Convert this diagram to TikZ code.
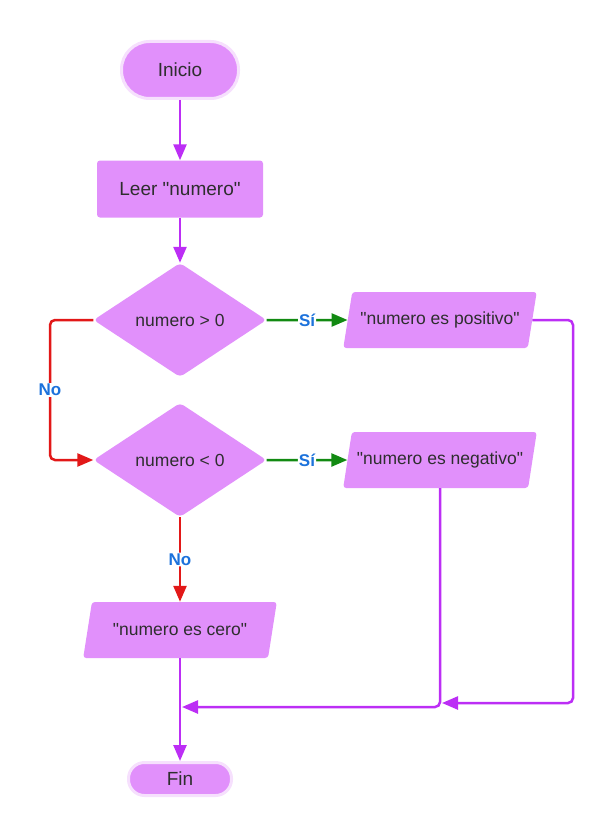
\documentclass[tikz,border=0pt]{standalone}
\usepackage{fontspec}
\setmainfont{Liberation Sans}[Ligatures=TeXOff]
\usetikzlibrary{positioning}
\usetikzlibrary{arrows.meta}
\usetikzlibrary{shapes.geometric}
\definecolor{caja}{HTML}{E190FB}
\definecolor{borde}{HTML}{F6E0FD}
\definecolor{linea}{HTML}{BC2EF5}
\definecolor{rojo}{HTML}{E21818}
\definecolor{verde}{HTML}{128A12}
\definecolor{azul}{HTML}{1C72DC}
\definecolor{texto}{HTML}{2E2E2E}

\begin{document}
\begin{tikzpicture}[x=1pt,y=1pt,
	nodes={text=texto,font=\fontsize{17.5}{20}\selectfont},
	terminal/.style={fill=caja,draw=borde,line width=3pt,font=\fontsize{19}{22}\selectfont},
	proceso/.style={fill=caja,rounded corners=3pt,minimum width=166pt,minimum height=57pt,font=\fontsize{19}{22}\selectfont},
	decision/.style={diamond,fill=caja,rounded corners=4pt,minimum width=173pt,minimum height=114pt,inner sep=1pt},
	salida/.style={trapezium,trapezium left angle=70,trapezium right angle=110,trapezium stretches=true,
		fill=caja,rounded corners=3pt,minimum width=194pt,minimum height=56pt,inner xsep=2pt},
	flecha/.style={draw=linea,line width=2.5pt,rounded corners=5pt,-{Triangle[length=16pt,width=13pt]}},
	etiqueta/.style={fill=white,text=azul,inner sep=1pt,font=\bfseries\fontsize{17}{19}\selectfont}]
	\useasboundingbox (0,0) rectangle (614,-840);
	
	\node (inicio) [terminal,rounded corners=28pt,minimum width=117pt,minimum height=57pt] at (180,-70) {Inicio};
	\node (leer) [proceso, below of = inicio, node distance=119pt] {Leer "numero"};
	\node (cond1) [decision, below of = leer, node distance=131pt] {numero > 0};
	\node (cond2) [decision, below of = cond1, node distance=140pt] {numero < 0};
	\node (pos) [salida, right of = cond1, node distance=260pt] {"numero es positivo"};
	\node (neg) [salida, right of = cond2, node distance=260pt] {"numero es negativo"};
	\node (cero) [salida, below of = cond2, node distance=170pt] {"numero es cero"};
	\node (fin) [terminal,rounded corners=16pt,minimum width=103pt,minimum height=33pt, below of = cero, node distance=149pt] {Fin};
	
	\coordinate (izq) at (50,-320);
	\coordinate (der) at (573,-703);
	\coordinate (union1) at (182,-707);
	\coordinate (union2) at (442,-703);
	
	\draw[flecha] (inicio) -- (leer);
	\draw[flecha] (leer) -- (cond1);
	\draw[flecha,draw=verde] (cond1) -- node[etiqueta]{Sí} (pos);
	\draw[flecha,draw=verde] (cond2) -- node[etiqueta]{Sí} (neg);
	\draw[flecha,draw=rojo] (cond1.west) -- (izq) |- node[etiqueta,pos=0.25]{No} (cond2.west);
	\draw[flecha,draw=rojo] (cond2) -- node[etiqueta]{No} (cero);
	\draw[flecha] (cero) -- (fin);
	\draw[flecha] (neg.south) |- (union1);
	\draw[flecha] (pos.east) -| (der) -- (union2);
\end{tikzpicture}
\end{document}
